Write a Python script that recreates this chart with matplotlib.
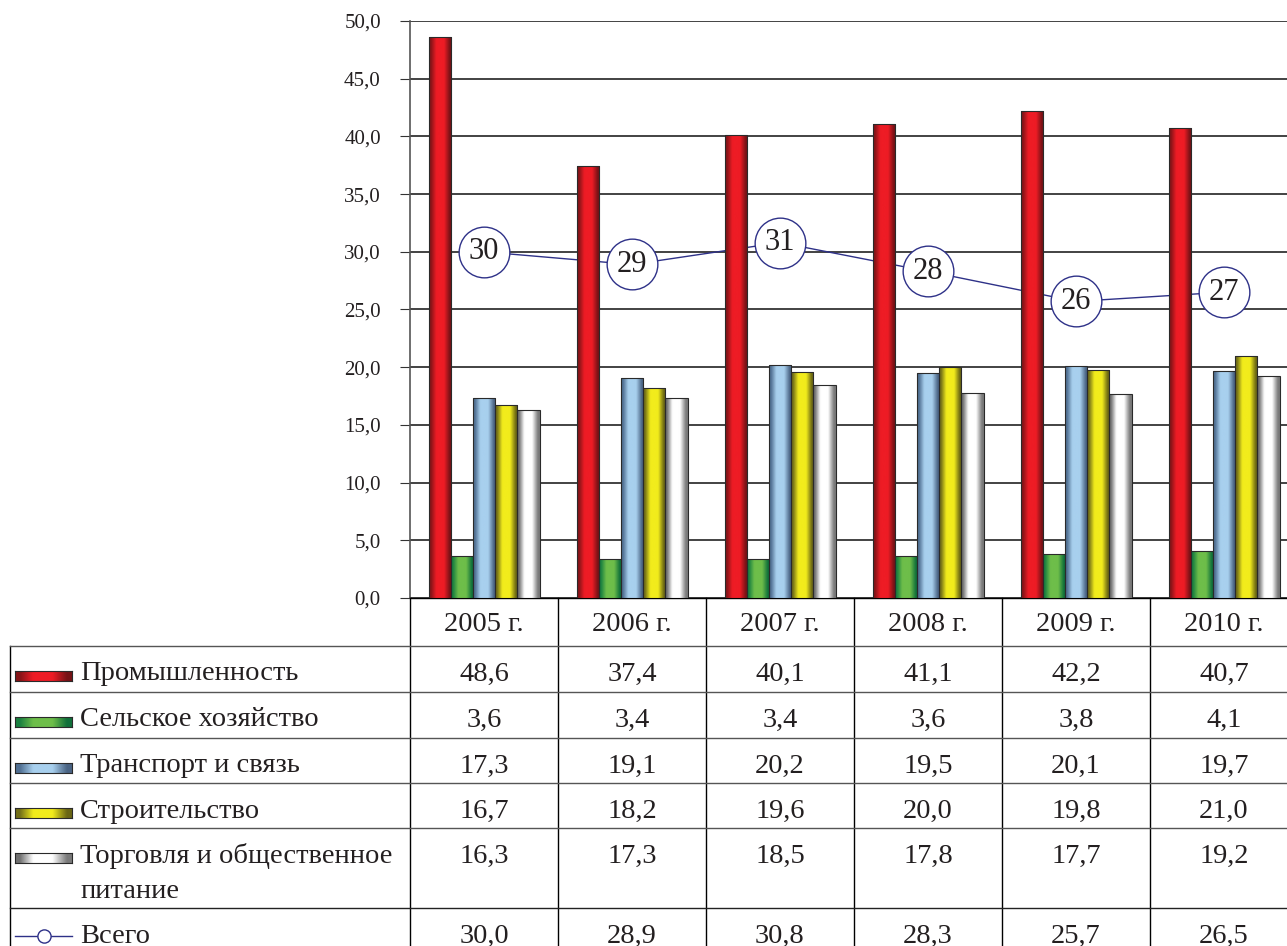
import numpy as np
import matplotlib
matplotlib.use("Agg")
import matplotlib.pyplot as plt
import matplotlib.transforms as mtransforms
from matplotlib.colors import LinearSegmentedColormap
from matplotlib.lines import Line2D

plt.rcParams["font.family"] = ["Liberation Serif", "DejaVu Serif"]

years = ["2005 г.", "2006 г.", "2007 г.", "2008 г.", "2009 г.", "2010 г."]
series_names = ["Промышленность", "Сельское хозяйство", "Транспорт и связь",
                "Строительство", "Торговля и общественное\nпитание"]
industry = [48.6, 37.4, 40.1, 41.1, 42.2, 40.7]
agriculture = [3.6, 3.4, 3.4, 3.6, 3.8, 4.1]
transport = [17.3, 19.1, 20.2, 19.5, 20.1, 19.7]
construction = [16.7, 18.2, 19.6, 20.0, 19.8, 21.0]
trade = [16.3, 17.3, 18.5, 17.8, 17.7, 19.2]
total_name = "Всего"
total = [30.0, 28.9, 30.8, 28.3, 25.7, 26.5]

series = [industry, agriculture, transport, construction, trade]
# (left dark, bright, right dark) for the cylinder-like shading
shades = [("#861418", "#ee1c25", "#761216"),
          ("#1a8040", "#6ebe4a", "#10703a"),
          ("#506f92", "#a8d0ee", "#4a6484"),
          ("#726e18", "#f2ec1c", "#6a6614"),
          ("#707070", "#ffffff", "#7a7a7a")]
navy = "#2e3188"

W, H = 1287, 946
fig = plt.figure(figsize=(W / 100, H / 100), dpi=100)


def fx(px):
    return px / W


def fy(py):
    return 1 - py / H


ax = fig.add_axes([fx(410), fy(598), 888 / W, 577 / H])

cmaps = [LinearSegmentedColormap.from_list(
    f"c{i}", [(0, a), (0.08, a), (0.32, b), (0.66, b), (0.92, c), (1, c)])
    for i, (a, b, c) in enumerate(shades)]

x = np.arange(len(years))
bw = 0.15
offsets = (np.arange(len(series)) - 2) * bw
grad = np.linspace(0, 1, 64).reshape(1, -1)
for vals, off, cm in zip(series, offsets, cmaps):
    bars = ax.bar(x + off, vals, bw, facecolor="none", edgecolor="#2a2a2a",
                  linewidth=0.8, zorder=4)
    for r in bars:
        x0, w, h = r.get_x(), r.get_width(), r.get_height()
        im = ax.imshow(grad, extent=[x0, x0 + w, 0, h], cmap=cm, aspect="auto",
                       interpolation="bicubic", zorder=3)
        im.set_clip_path(r)

# total line: line behind bars, circles on top
ax.plot(x, total, color=navy, lw=1.0, zorder=2)
ax.plot(x, total, "o", ms=36.5, mfc="white", mec=navy, mew=1.0, zorder=5)
for xi, v in zip(x, total):
    ax.text(xi, v, str(int(v + 0.5)), ha="center", va="center", fontsize=22,
            color="#231f20", zorder=6)

ax.set_xlim(-0.5, len(years) - 0.5)
ax.set_ylim(0, 50)
ticks = np.arange(0, 51, 5)
ax.set_yticks(ticks)
ax.set_yticklabels([f"{v:.1f}".replace(".", ",") for v in ticks],
                   fontsize=15, color="#231f20")
ax.tick_params(axis="y", length=7, width=0.8, pad=14, color="#333333")
ax.set_xticks([])
ax.grid(axis="y", color="#222222", lw=1.2, zorder=0.5)
ax.set_axisbelow(True)
for s in ("top", "right"):
    ax.spines[s].set_visible(False)
ax.spines["left"].set_color("#555555")
ax.spines["left"].set_linewidth(1.2)
ax.spines["bottom"].set_color("black")
ax.spines["bottom"].set_linewidth(1.0)

# ---- data table under the chart ----
bt = mtransforms.blended_transform_factory(ax.transData, fig.transFigure)
header_top = 598
row_tops = [646, 692, 738, 783, 828, 908]
bottom = 960
txt_color = "#231f20"
fs = 20.5

for xi, yr in zip(x, years):
    fig.text(xi, fy(header_top + 26), yr, transform=bt, ha="center",
             va="center", fontsize=fs, color=txt_color)

for b in np.arange(len(years) + 1) - 0.5:
    fig.add_artist(Line2D([b, b], [fy(header_top), fy(bottom)], transform=bt,
                          color="black", lw=1.0))
fig.add_artist(Line2D([fx(10), fx(10)], [fy(row_tops[0]), fy(bottom)],
                      color="black", lw=1.0))
for i, t in enumerate(row_tops):
    fig.add_artist(Line2D([fx(10), fx(W)], [fy(t), fy(t)],
                          color="#555555" if i < 5 else "#222222", lw=1.0))

rows = series + [total]
labels = series_names + [total_name]
for i, (t, vals, lab) in enumerate(zip(row_tops, rows, labels)):
    cy = t + 28
    for xi, v in zip(x, vals):
        fig.text(xi, fy(cy), f"{v:.1f}".replace(".", ","), transform=bt,
                 ha="center", va="center", fontsize=fs, color=txt_color)
    first, *rest = lab.split("\n")
    fig.text(fx(80), fy(cy), first, ha="left", va="center", fontsize=fs,
             color=txt_color)
    if rest:
        fig.text(fx(80), fy(cy + 35), rest[0], ha="left", va="center",
                 fontsize=fs, color=txt_color)
    if i < len(series):
        kax = fig.add_axes([fx(15), fy(cy + 7), 57 / W, 10 / H])
        kax.imshow(grad, cmap=cmaps[i], aspect="auto", interpolation="bicubic")
        kax.set_xticks([])
        kax.set_yticks([])
        for s in kax.spines.values():
            s.set_color("#2a2a2a")
            s.set_linewidth(0.8)
    else:
        fig.add_artist(Line2D([fx(15), fx(72)], [fy(cy), fy(cy)], color=navy,
                              lw=1.0))
        fig.add_artist(Line2D([fx(43.5)], [fy(cy)], marker="o", ms=9.5,
                              mfc="white", mec=navy, mew=1.0, color=navy))

fig.savefig("out.png", dpi=100)
